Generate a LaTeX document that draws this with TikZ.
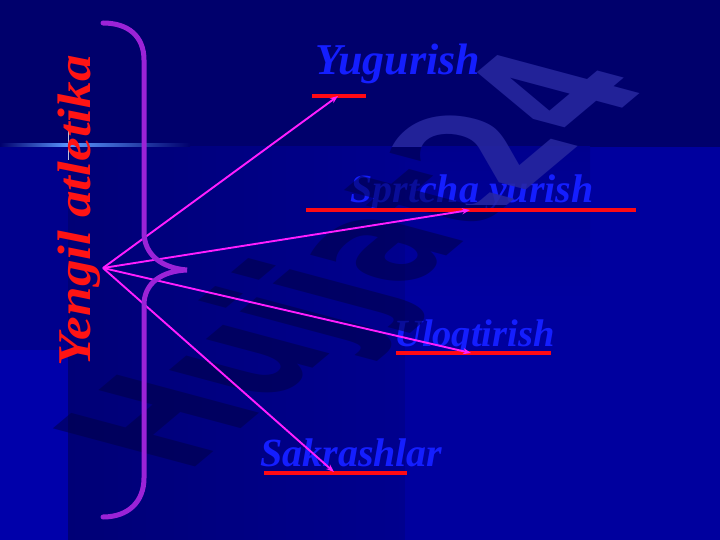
\documentclass[tikz,border=0pt]{standalone}
\usepackage{graphicx}
\usepackage{fontspec}
\usetikzlibrary{arrows.meta}
\newfontfamily\lblfont{Liberation Serif}
\newfontfamily\wmfont{DejaVu Sans}
\definecolor{bgtop}{RGB}{0,0,108}
\definecolor{bgmidleft}{RGB}{0,0,140}
\definecolor{bgleft}{RGB}{0,0,170}
\definecolor{bgA}{RGB}{0,0,118}
\definecolor{bgB}{RGB}{0,0,142}
\definecolor{bgright}{RGB}{0,0,158}
\definecolor{flareblue}{RGB}{90,150,255}
\definecolor{lblblue}{RGB}{20,30,255}
\definecolor{ulred}{RGB}{255,10,20}
\definecolor{titlered}{RGB}{255,20,20}
\definecolor{arrmag}{RGB}{255,30,255}
\definecolor{bracepurple}{RGB}{155,35,215}
\definecolor{wmlight}{RGB}{40,40,160}
\definecolor{wmdark}{RGB}{0,0,70}
\begin{document}
\begin{tikzpicture}[x=1pt,y=-1pt,
  lbl/.style={anchor=base west, inner sep=0, text=lblblue},
  uline/.style={draw=ulred, line width=4pt},
  arr/.style={draw=arrmag, line width=1.9pt, -{Stealth[length=8pt,width=6pt]}},
  bracestyle/.style={draw=bracepurple, line width=5pt, line cap=round},
  wm/.style={anchor=base west, inner sep=0, transform shape,
    cm={0.980,0.823,-1.951,0.523,(0,0)}}]
\useasboundingbox (0,0) rectangle (720,540);
% background
\fill[bgtop] (0,0) rectangle (720,540);
\fill[bgmidleft] (0,147) rectangle (68,350);
\fill[bgleft] (0,350) rectangle (68,540);
\shade[left color=bgA, right color=bgB] (68,147) rectangle (405,540);
\fill[bgright] (405,147) rectangle (720,540);
\shade[top color=bgB, bottom color=bgright] (405,147) rectangle (590,300);
% flare
\shade[left color=bgtop, right color=flareblue] (0,144) rectangle (68,146.5);
\shade[left color=flareblue, right color=bgtop] (68,144) rectangle (190,146.5);
\draw[white, opacity=0.75, line width=1pt] (68,130) -- (68,160);
% labels
\node[lbl, font=\lblfont\bfseries\itshape\fontsize{44}{44}\selectfont] (yug) at (315,75) {Yugurish};
\node[lbl, font=\lblfont\bfseries\itshape\fontsize{40}{40}\selectfont] (spr) at (350,203) {Sprtcha yurish};
\node[lbl, font=\lblfont\bfseries\itshape\fontsize{38.5}{38.5}\selectfont] (ulo) at (394,346) {Uloqtirish};
\node[lbl, font=\lblfont\bfseries\itshape\fontsize{40}{40}\selectfont] (sak) at (260,466) {Sakrashlar};
% watermark
\begin{scope}
  \clip (0,0) -- (720,0) -- (720,147) -- (595,147) -- (595,205) -- (465,205) -- (465,147) -- (0,147) -- cycle;
  \begin{scope}[shift={(186,475)}]
    \node[wm, text=wmlight, text opacity=0.85] (wm1) at (0,0) {\wmfont\bfseries\fontsize{100}{100}\selectfont Hujjat24};
  \end{scope}
\end{scope}
\begin{scope}
  \clip (0,147) -- (465,147) -- (465,205) -- (595,205) -- (595,147) -- (720,147) -- (720,540) -- (0,540) -- cycle;
  \begin{scope}[shift={(186,475)}]
    \node[wm, text=wmdark, text opacity=0.55] (wm2) at (0,0) {\wmfont\bfseries\fontsize{100}{100}\selectfont Hujjat24};
  \end{scope}
\end{scope}
% underlines
\coordinate (u1a) at (312,96);  \coordinate (u1b) at (366,96);
\coordinate (u2a) at (306,210); \coordinate (u2b) at (636,210);
\coordinate (u3a) at (396,353); \coordinate (u3b) at (551,353);
\coordinate (u4a) at (264,473); \coordinate (u4b) at (407,473);
\draw[uline] (u1a) -- (u1b);
\draw[uline] (u2a) -- (u2b);
\draw[uline] (u3a) -- (u3b);
\draw[uline] (u4a) -- (u4b);
% arrows
\coordinate (O) at (103,268);
\coordinate (t1) at (338,96);
\coordinate (t2) at (470,210);
\coordinate (t3) at (471,353);
\coordinate (t4) at (334,472);
\draw[arr] (O) -- (t1);
\draw[arr] (O) -- (t2);
\draw[arr] (O) -- (t3);
\draw[arr] (O) -- (t4);
% brace
\draw[bracestyle] (103,23) .. controls (128,23) and (144,36) .. (144,60) -- (144,232)
  .. controls (144,255) and (162,268) .. (187,270)
  .. controls (162,271) and (144,283) .. (144,305) -- (144,478)
  .. controls (144,502) and (128,517) .. (103,517);
% title
\node[rotate=90, anchor=base, inner sep=0, text=titlered] (title) at (90,211)
  {\scalebox{1.13}[1]{\lblfont\bfseries\itshape\fontsize{47}{47}\selectfont Yengil atletika}};
\end{tikzpicture}
\end{document}
